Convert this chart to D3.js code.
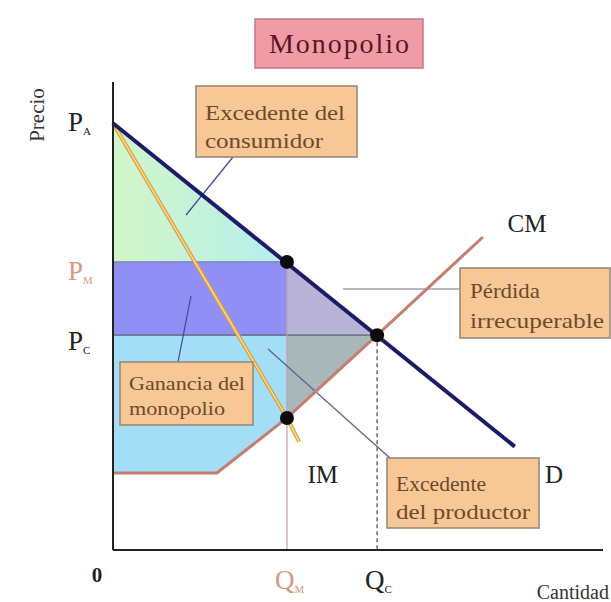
<!DOCTYPE html>
<html><head><meta charset="utf-8">
<script src="https://cdn.jsdelivr.net/npm/d3@7"></script>
<style>body{margin:0;background:#fff}svg{display:block}text{font-family:"Liberation Serif","Times New Roman",Times,"DejaVu Serif",serif}</style>
</head><body>
<svg id="c" width="611" height="602"></svg>
<script>
// ---- data (price / quantity units) ----
const priceLevels = {PA: 9.08, PM: 6.13, PC: 4.57};
const quantityLevels = {QM: 3.55, QC: 5.39};
const demandPts = [[0, 9.08], [8.2, 2.2]];
const mrPts = [[0, 9.08], [3.55, 2.81], [3.8, 2.3]];
const mcPts = [[0, 1.64], [2.12, 1.64], [3.55, 2.81], [5.39, 4.57], [7.55, 6.66]];
const dotPts = [[3.55, 6.13], [5.39, 4.57], [3.55, 2.81]];
const yTickLabels = [["P", "A", 9.08, "#222"], ["P", "M", 6.13, "#d89880"], ["P", "C", 4.57, "#222"]];
const xTickLabels = [["Q", "M", 3.55, "#d89880"], ["Q", "C", 5.39, "#222"]];
const curveLabels = [["CM", 8.45, 6.77], ["IM", 4.28, 1.43], ["D", 9.0, 1.43]];
const notes = [
  {lines: ["Excedente del", "consumidor"]},
  {lines: ["Pérdida", "irrecuperable"]},
  {lines: ["Ganancia del", "monopolio"]},
  {lines: ["Excedente", "del productor"]}
];

const svg = d3.select("#c");
const x = d3.scaleLinear().domain([0, 10]).range([113, 603]);
const y = d3.scaleLinear().domain([0, 10]).range([550, 80]);
const P = (q, p) => [x(q), y(p)];
const line = d3.line().x(d => x(d[0])).y(d => y(d[1]));

const {PA, PM, PC} = priceLevels, {QM, QC} = quantityLevels;
const mcAt = q => { for (let i = 1; i < mcPts.length; i++) { const a = mcPts[i-1], b = mcPts[i]; if (q <= b[0]) return a[1] + (b[1]-a[1])*(q-a[0])/(b[0]-a[0]); } return mcPts[mcPts.length-1][1]; };

const defs = svg.append("defs");
const g1 = defs.append("linearGradient").attr("id", "cs").attr("x1", "0").attr("x2", "1").attr("y1", "0").attr("y2", "0");
g1.append("stop").attr("offset", "0").attr("stop-color", "#d2f7c6");
g1.append("stop").attr("offset", "1").attr("stop-color", "#b4eef0");

// title
svg.append("rect").attr("x", 255).attr("y", 19).attr("width", 168).attr("height", 49).attr("fill", "#ef9ca7").attr("stroke", "#c47a86").attr("stroke-width", 1.5);
svg.append("text").attr("x", 339).attr("y", 53).attr("text-anchor", "middle").attr("font-size", 28).attr("fill", "#5a1525").attr("textLength", 140).text("Monopolio");

// areas
const poly = pts => svg.append("polygon").attr("points", pts.map(d => P(d[0], d[1]).join(",")).join(" "));
poly([[0, PA], [QM, PM], [0, PM]]).attr("fill", "url(#cs)");
poly([[0, PM], [QM, PM], [QM, PC], [0, PC]]).attr("fill", "#8f8ff6");
poly([[0, PC], [QM, PC], [QM, mcAt(QM)], [mcPts[1][0], mcPts[1][1]], [0, mcPts[0][1]]]).attr("fill", "#a2def6");
poly([[QM, PM], [QC, PC], [QM, PC]]).attr("fill", "#b9b3d8");
poly([[QM, PC], [QC, PC], [QM, mcAt(QM)]]).attr("fill", "#a9b6ba");

// guide lines
svg.append("line").attr("x1", x(0)).attr("x2", x(QM)).attr("y1", y(PM)).attr("y2", y(PM)).attr("stroke", "#7a7aa8").attr("stroke-width", 1.2);
svg.append("line").attr("x1", x(0)).attr("x2", x(QC)).attr("y1", y(PC)).attr("y2", y(PC)).attr("stroke", "#556070").attr("stroke-width", 1.2);
svg.append("line").attr("x1", x(QM)).attr("x2", x(QM)).attr("y1", y(PM)).attr("y2", y(0)).attr("stroke", "#c0a0a8").attr("stroke-width", 1.2);
svg.append("line").attr("x1", x(QC)).attr("x2", x(QC)).attr("y1", y(PC)).attr("y2", y(0)).attr("stroke", "#555").attr("stroke-width", 1.3).attr("stroke-dasharray", "4,3");

// callout leaders
const leader = (a, b, c) => svg.append("line").attr("x1", a[0]).attr("y1", a[1]).attr("x2", b[0]).attr("y2", b[1]).attr("stroke", c).attr("stroke-width", 1.2);
leader([233, 157], [186, 215], "#3a4a9a");
leader([460, 289], [343, 289], "#707482");
leader([178, 362], [191, 296], "#3a4a9a");
leader([391, 459], [268, 349], "#5a6090");

// curves
svg.append("path").attr("d", line(mcPts)).attr("fill", "none").attr("stroke", "#c47e70").attr("stroke-width", 3);
svg.append("path").attr("d", line(mrPts)).attr("fill", "none").attr("stroke", "#dc9c52").attr("stroke-width", 4);
svg.append("path").attr("d", line(mrPts)).attr("fill", "none").attr("stroke", "#f3e07c").attr("stroke-width", 1.5);
svg.append("path").attr("d", line(demandPts)).attr("fill", "none").attr("stroke", "#1c1c66").attr("stroke-width", 4);

// axes
svg.append("line").attr("x1", x(0)).attr("x2", x(0)).attr("y1", 82).attr("y2", y(0)).attr("stroke", "#222").attr("stroke-width", 2);
svg.append("line").attr("x1", x(0)).attr("x2", x(10)).attr("y1", y(0)).attr("y2", y(0)).attr("stroke", "#222").attr("stroke-width", 2.2);

// dots
svg.selectAll("circle.dot").data(dotPts).join("circle").attr("class", "dot").attr("cx", d => x(d[0])).attr("cy", d => y(d[1])).attr("r", 7).attr("fill", "#0a0a0a");

// callout boxes
const boxes = [
  {x: 196, y: 86, w: 161, h: 71, tx: 205, ty: [120, 148], tl: [140, 118]},
  {x: 460, y: 268, w: 150, h: 70, tx: 470, ty: [298, 328], tl: [70, 134]},
  {x: 120, y: 362, w: 133, h: 63, tx: 129, ty: [390, 415], tl: [116, 96]},
  {x: 387, y: 458, w: 152, h: 70, tx: 396, ty: [491, 519], tl: [90, 134]}
];
boxes.forEach((b, i) => {
  svg.append("rect").attr("x", b.x).attr("y", b.y).attr("width", b.w).attr("height", b.h).attr("fill", "#f8c796").attr("stroke", "#9a8a78").attr("stroke-width", 1.6);
  notes[i].lines.forEach((t, j) => svg.append("text").attr("x", b.tx).attr("y", b.ty[j]).attr("font-size", i === 2 ? 19 : 21).attr("fill", "#6e4a2c").attr("textLength", b.tl[j]).attr("lengthAdjust", "spacingAndGlyphs").text(t));
});

// tick labels
const yLabelShift = [8, 18, 15];
yTickLabels.forEach(([m, s, v, c], i) => {
  const t = svg.append("text").attr("x", 68).attr("y", y(v) + yLabelShift[i]).attr("font-size", 27).attr("fill", c);
  t.append("tspan").text(m);
  t.append("tspan").attr("font-size", 11).attr("dy", 4).text(s);
});
xTickLabels.forEach(([m, s, v, c]) => {
  const t = svg.append("text").attr("x", x(v) - 12).attr("y", 589).attr("font-size", 27).attr("fill", c);
  t.append("tspan").text(m);
  t.append("tspan").attr("font-size", 11).attr("dy", 4).text(s);
});
svg.append("text").attr("x", 97).attr("y", 582).attr("text-anchor", "middle").attr("font-weight", "bold").attr("font-size", 21).attr("fill", "#222").text("0");
svg.append("text").attr("x", 609).attr("y", 599).attr("text-anchor", "end").attr("font-size", 20).attr("fill", "#333").text("Cantidad");
svg.append("text").attr("transform", "translate(44,115) rotate(-90)").attr("text-anchor", "middle").attr("font-size", 21).attr("fill", "#333").text("Precio");

// curve labels
curveLabels.forEach(([t, q, p]) => svg.append("text").attr("x", x(q)).attr("y", y(p)).attr("text-anchor", "middle").attr("font-size", 25).attr("fill", "#222").text(t));
</script>
</body></html>
